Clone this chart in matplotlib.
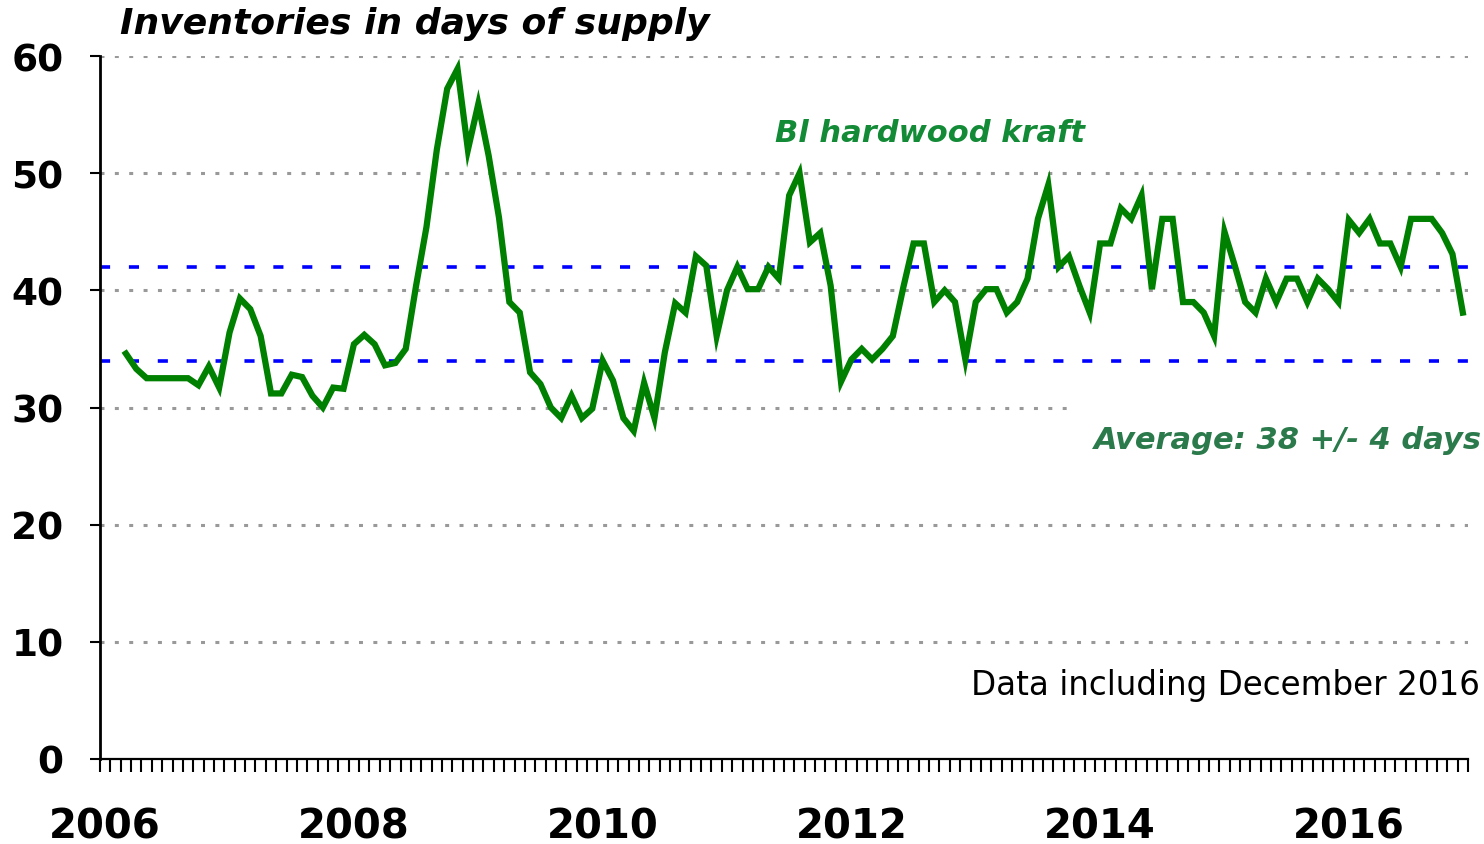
import numpy as np
import matplotlib
matplotlib.use("Agg")
import matplotlib.pyplot as plt
import matplotlib.ticker as mticker

# ── Data ──────────────────────────────────────────────────────────────────────
start_year = 2006
end_year = 2016
first_month = 3          # series starts March 2006, monthly to December 2016
days_supply = [
    34.6, 33.3, 32.5, 32.5, 32.5, 32.5, 32.5, 31.9, 33.5, 31.7,              # 2006 Mar-Dec
    36.4, 39.3, 38.4, 36.1, 31.2, 31.2, 32.8, 32.6, 31.0, 30.0, 31.7, 31.6,  # 2007
    35.4, 36.2, 35.4, 33.6, 33.8, 35.0, 40.4, 45.4, 52.0, 57.2, 58.9, 52.0,  # 2008
    55.9, 51.5, 46.2, 39.0, 38.1, 33.0, 32.0, 30.0, 29.1, 31.0, 29.1, 29.9,  # 2009
    34.0, 32.3, 29.1, 28.0, 32.1, 29.1, 34.7, 38.9, 38.1, 42.9, 42.1, 36.1,  # 2010
    40.0, 42.0, 40.1, 40.1, 42.0, 41.0, 48.1, 50.0, 44.1, 44.9, 40.4, 32.2,  # 2011
    34.1, 35.0, 34.1, 35.0, 36.1, 40.2, 44.0, 44.0, 39.0, 40.0, 39.0, 34.1,  # 2012
    39.0, 40.1, 40.1, 38.1, 39.0, 41.0, 46.1, 49.0, 42.0, 42.9, 40.4, 38.1,  # 2013
    44.0, 44.0, 47.0, 46.1, 48.1, 40.1, 46.1, 46.1, 39.0, 39.0, 38.1, 36.1,  # 2014
    45.0, 42.1, 39.0, 38.1, 41.0, 39.0, 41.0, 41.0, 39.0, 41.0, 40.1, 39.0,  # 2015
    46.0, 44.9, 46.1, 44.0, 44.0, 42.0, 46.1, 46.1, 46.1, 44.9, 43.1, 38.1,  # 2016
]
average = 38
band = 4
year_labels = [str(y) for y in range(start_year, end_year + 1, 2)]
y_ticks = [0, 10, 20, 30, 40, 50, 60]

GREEN = "#008000"
BLUE = "#0000FF"
GRID = "#999999"

plt.rcParams["font.family"] = "DejaVu Sans"

n_months = (end_year - start_year + 1) * 12
x = np.arange(len(days_supply)) + (first_month - 1) + 0.5

fig = plt.figure(figsize=(14.84, 8.45), dpi=100)
ax = fig.add_axes([100 / 1484, 85 / 845, 1368 / 1484, 703 / 845])

# gridlines and average band
for yv in y_ticks[1:]:
    ax.axhline(yv, color=GRID, linewidth=2.2, linestyle=(0, (1.3, 3.4)), zorder=1)
for yv in (average - band, average + band):
    ax.axhline(yv, color=BLUE, linewidth=2.6, linestyle=(0, (2.8, 5.2)), zorder=2)

ax.plot(x, days_supply, color=GREEN, linewidth=4.5, solid_joinstyle="miter", zorder=3)

ax.set_xlim(0, n_months)
ax.set_ylim(0, 60)

# axes styling
for s in ("top", "right"):
    ax.spines[s].set_visible(False)
ax.spines["left"].set_linewidth(2)
ax.spines["bottom"].set_linewidth(1.6)

ax.set_yticks(y_ticks)
ax.set_yticklabels([str(v) for v in y_ticks], fontsize=27, fontweight="bold")
ax.tick_params(axis="y", length=7.2, width=1.5, pad=19)

year_pos = [12 * (int(y) - start_year) + 0.5 for y in year_labels]
ax.set_xticks(year_pos)
ax.set_xticklabels(year_labels, fontsize=29, fontweight="bold")
ax.tick_params(axis="x", which="major", length=0, pad=34)
ax.xaxis.set_minor_locator(mticker.MultipleLocator(1))
ax.tick_params(axis="x", which="minor", length=9.4, width=1.5, direction="out")

# text
fig.text(120 / 1484, 1 - 24 / 845, "Inventories in days of supply",
         fontsize=26, fontweight="bold", fontstyle="italic", ha="left", va="center")
fig.text(930 / 1484, 1 - 134 / 845, "Bl hardwood kraft", color="#128a36",
         fontsize=22, fontweight="bold", fontstyle="italic", ha="center", va="center")
fig.text(1482 / 1484, 1 - 441 / 845, "Average: 38 +/- 4 days", color="#2b7a4b",
         fontsize=22, fontweight="bold", fontstyle="italic", ha="right", va="center",
         bbox=dict(facecolor="white", edgecolor="none", pad=16))
fig.text(1480 / 1484, 1 - 686 / 845, "Data including December 2016",
         fontsize=23.5, ha="right", va="center")

plt.savefig("out.png", dpi=100)
plt.close()
